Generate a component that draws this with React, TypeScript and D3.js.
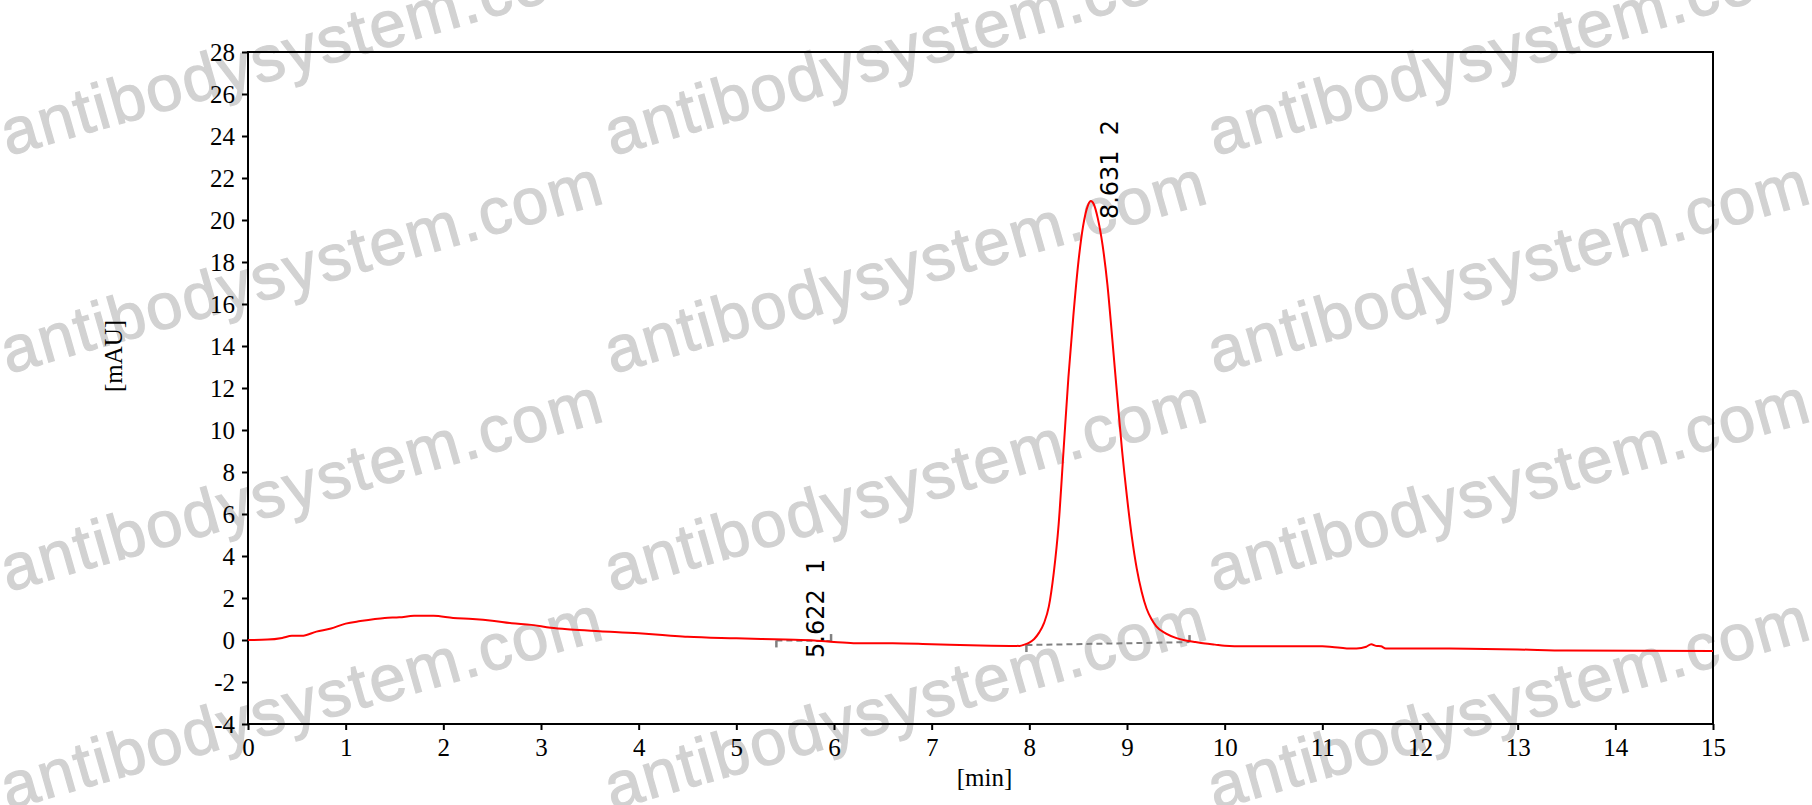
import * as d3 from 'd3';
import { useEffect, useRef } from 'react';

// chromatogram trace
const retentionTimes = [
  0, 0.2, 0.35, 0.45, 0.55, 0.7, 0.85, 1.0, 1.15, 1.3, 1.4, 1.55, 1.7, 1.9, 2.1, 2.3, 2.5, 2.7, 2.9,
  3.1, 3.3, 3.6, 4.0, 4.3, 4.5, 5.0, 5.5, 5.8, 6.0, 6.2, 6.6, 7.0, 7.5, 7.9, 7.95, 8.0, 8.05, 8.1,
  8.15, 8.2, 8.25, 8.3, 8.35, 8.4, 8.45, 8.5, 8.55, 8.6, 8.63, 8.66, 8.7, 8.75, 8.8, 8.85, 8.9,
  8.95, 9.0, 9.05, 9.1, 9.15, 9.2, 9.25, 9.3, 9.4, 9.5, 9.6, 9.7, 9.8, 9.9, 10.0, 10.2, 11.0, 11.1,
  11.25, 11.35, 11.45, 11.5, 11.55, 11.6, 11.65, 12.0, 12.5, 13.0, 13.5, 15.0,
];
const absorbance = [
  0, 0.02, 0.1, 0.2, 0.2, 0.4, 0.55, 0.78, 0.9, 1.0, 1.05, 1.08, 1.15, 1.15, 1.05, 1.0, 0.92, 0.8,
  0.72, 0.58, 0.5, 0.42, 0.32, 0.22, 0.15, 0.08, 0.02, -0.02, -0.1, -0.15, -0.15, -0.2, -0.26, -0.28,
  -0.22, -0.12, 0.05, 0.35, 0.8, 1.6, 3.2, 5.5, 9.0, 12.5, 15.4, 17.9, 19.7, 20.7, 20.9, 20.75,
  20.1, 18.8, 16.9, 14.3, 11.6, 9.0, 6.8, 4.9, 3.4, 2.3, 1.5, 1.0, 0.65, 0.3, 0.1, -0.02, -0.1,
  -0.17, -0.22, -0.27, -0.3, -0.3, -0.33, -0.4, -0.4, -0.32, -0.2, -0.28, -0.3, -0.4, -0.4, -0.42,
  -0.45, -0.5, -0.52,
];

// integrated peaks
const peakNumbers = [1, 2];
const peakTimes = [5.622, 8.631];
const peakApex = [0.0, 20.9];
const baseStartTimes = [5.41, 7.97];
const baseStartValues = [-0.02, -0.24];
const baseEndTimes = [5.97, 9.64];
const baseEndValues = [-0.05, -0.1];

const xTicks = d3.range(0, 16, 1);
const yTicks = d3.range(-4, 30, 2);

// watermark grid
const watermarkCols = [8, 612, 1215];
const watermarkRows = [156, 374, 592, 810];

function App() {
  const chartRef = useRef<SVGSVGElement>(null);

  useEffect(() => {
    document.body.style.margin = '0';
    const width = 1812;
    const height = 805;
    const margin = { top: 52, right: 99, bottom: 81, left: 248 };
    const innerW = width - margin.left - margin.right;
    const innerH = height - margin.top - margin.bottom;

    const root = d3.select(chartRef.current);
    root.selectAll('*').remove();

    // watermarks (behind everything)
    const wm = root.append('g').attr('class', 'watermark');
    watermarkRows.forEach((wy) => {
      watermarkCols.forEach((wx) => {
        wm.append('text')
          .attr('transform', `translate(${wx},${wy}) rotate(-16)`)
          .attr('font-family', 'Liberation Sans, Arial, sans-serif')
          .attr('font-size', 65)
          .attr('fill', '#d2d2d2')
          .attr('stroke', '#d2d2d2')
          .attr('stroke-width', 1.2)
          .attr('textLength', 622)
          .attr('lengthAdjust', 'spacing')
          .text('antibodysystem.com');
      });
    });

    const svg = root
      .append('g')
      .attr('transform', `translate(${margin.left},${margin.top})`);

    const x = d3.scaleLinear().domain([0, 15]).range([0, innerW]);
    const y = d3.scaleLinear().domain([-4, 28]).range([innerH, 0]);

    // x axis
    const xAxis = svg
      .append('g')
      .attr('transform', `translate(0,${innerH})`)
      .call(
        d3.axisBottom(x).tickValues(xTicks).tickSize(6).tickPadding(8).tickFormat((d) => String(d))
      );
    xAxis.select('.domain').remove();
    xAxis.selectAll('line').attr('stroke', '#000').attr('stroke-width', 2);
    xAxis
      .selectAll('text')
      .attr('font-family', 'Liberation Serif, Times New Roman, serif')
      .attr('font-size', 25)
      .attr('fill', '#000');

    // y axis
    const yAxis = svg
      .append('g')
      .call(
        d3.axisLeft(y).tickValues(yTicks).tickSize(6).tickPadding(7).tickFormat((d) => String(d))
      );
    yAxis.select('.domain').remove();
    yAxis.selectAll('line').attr('stroke', '#000').attr('stroke-width', 2);
    yAxis
      .selectAll('text')
      .attr('font-family', 'Liberation Serif, Times New Roman, serif')
      .attr('font-size', 25)
      .attr('fill', '#000');

    // frame
    svg
      .append('rect')
      .attr('x', 0)
      .attr('y', 0)
      .attr('width', innerW)
      .attr('height', innerH)
      .attr('fill', 'none')
      .attr('stroke', '#000')
      .attr('stroke-width', 2);

    // axis titles
    svg
      .append('text')
      .attr('x', innerW / 2 + 4)
      .attr('y', innerH + 62)
      .attr('text-anchor', 'middle')
      .attr('font-family', 'Liberation Serif, Times New Roman, serif')
      .attr('font-size', 25)
      .text('[min]');
    svg
      .append('text')
      .attr('transform', `translate(${-margin.left + 122},${304}) rotate(-90)`)
      .attr('text-anchor', 'middle')
      .attr('font-family', 'Liberation Serif, Times New Roman, serif')
      .attr('font-size', 25)
      .text('[mAU]');

    // integration baselines
    peakNumbers.forEach((_n, i) => {
      const x0 = x(baseStartTimes[i]);
      const y0 = y(baseStartValues[i]);
      const x1 = x(baseEndTimes[i]);
      const y1 = y(baseEndValues[i]);
      svg
        .append('line')
        .attr('x1', x0)
        .attr('y1', y0)
        .attr('x2', x1)
        .attr('y2', y1)
        .attr('stroke', '#808080')
        .attr('stroke-width', 2)
        .attr('stroke-dasharray', '6,4');
      svg
        .append('line')
        .attr('x1', x0)
        .attr('y1', y0)
        .attr('x2', x0)
        .attr('y2', y0 + 7)
        .attr('stroke', '#808080')
        .attr('stroke-width', 2.5);
      svg
        .append('line')
        .attr('x1', x1)
        .attr('y1', y1)
        .attr('x2', x1)
        .attr('y2', y1 - 7)
        .attr('stroke', '#808080')
        .attr('stroke-width', 2.5);
    });

    // trace
    const points = retentionTimes.map((t, i) => [t, absorbance[i]] as [number, number]);
    const line = d3
      .line<[number, number]>()
      .x((d) => x(d[0]))
      .y((d) => y(d[1]))
      .curve(d3.curveMonotoneX);
    svg
      .append('path')
      .datum(points)
      .attr('d', line)
      .attr('fill', 'none')
      .attr('stroke', '#ff0000')
      .attr('stroke-width', 2);

    // peak labels
    peakNumbers.forEach((n, i) => {
      svg
        .append('text')
        .attr('transform', `translate(${x(peakTimes[i]) + 27},${y(peakApex[i]) + 18}) rotate(-90)`)
        .attr('font-family', 'DejaVu Sans, sans-serif')
        .attr('font-size', 24)
        .attr('fill', '#000')
        .style('white-space', 'pre')
        .text(`${peakTimes[i].toFixed(3)}  ${n}`);
    });
  }, []);

  return <svg ref={chartRef} width={1812} height={805} style={{ display: 'block' }} />;
}

export default App;
